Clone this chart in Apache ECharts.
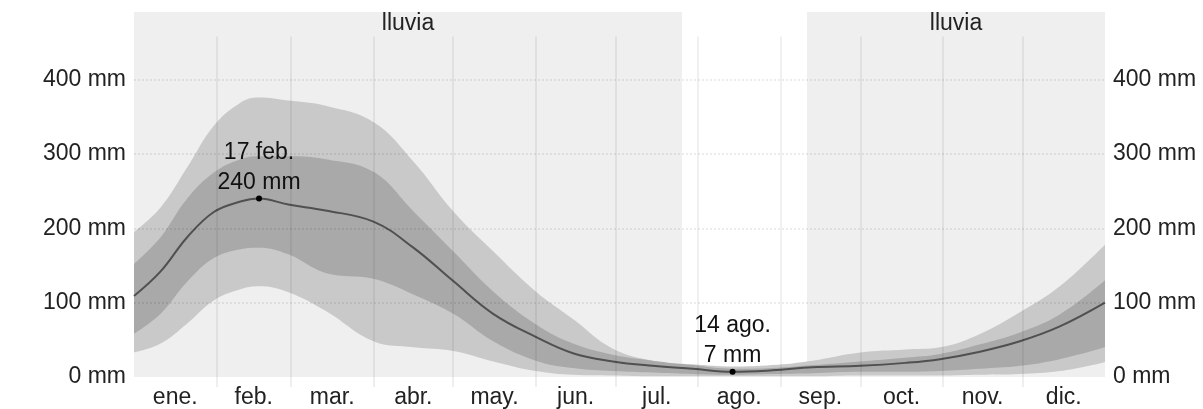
<!DOCTYPE html>
<html><head><meta charset="utf-8">
<script src="https://cdn.jsdelivr.net/npm/echarts@6/dist/echarts.min.js"></script>
<style>html,body{margin:0;padding:0;background:#fff}#c{width:1203px;height:409px}</style>
</head><body><div id="c"></div>
<script>
// Day of year (0 = 1 Jan)
const days = [0, 10, 20, 30, 40, 47, 58, 72, 90, 105, 120, 135, 151, 165, 180, 195, 210, 225, 240, 255, 273, 290, 303, 318, 333, 348, 365];
// Rainfall percentiles (mm)
const p10 = [33, 45, 72, 103, 118, 122, 114, 89, 48, 40, 35, 21, 8, 3, 2, 1, 1, 1, 1, 1, 2, 2, 2, 3, 4, 8, 20];
const p25 = [58, 85, 128, 160, 172, 174, 165, 140, 132, 111, 85, 48, 22, 12, 8, 6, 4, 3, 4, 5, 7, 7, 8, 11, 15, 24, 40];
const p50 = [109, 142, 188, 222, 236, 240, 232, 224, 209, 174, 129, 85, 54, 32, 21, 15, 11, 7, 9, 13, 15, 19, 24, 34, 48, 68, 100];
const p75 = [152, 188, 240, 275, 293, 297, 297, 293, 276, 223, 169, 115, 71, 45, 30, 22, 16, 11, 12, 16, 21, 26, 31, 44, 60, 84, 130];
const p90 = [195, 228, 282, 338, 369, 376, 372, 365, 343, 290, 223, 169, 115, 78, 38, 22, 17, 14, 16, 22, 33, 37, 40, 58, 87, 122, 178];

const monthNames = ['ene.', 'feb.', 'mar.', 'abr.', 'may.', 'jun.', 'jul.', 'ago.', 'sep.', 'oct.', 'nov.', 'dic.'];
const monthStarts = [0, 31, 59, 90, 120, 151, 181, 212, 243, 273, 304, 334, 365];
const yTicks = [0, 100, 200, 300, 400];

// Rainy season spans (day of year)
const seasonStart = [0, 253];
const seasonEnd = [206, 365];
const seasonLabel = 'lluvia';

// Annotated extremes
const annDays = [47, 225];
const annValues = [240, 7];
const annDates = ['17 feb.', '14 ago.'];

const Y_MAX = 491, GRID_TOP_VAL = 458;
const FONT = '"Liberation Sans", Arial, sans-serif';
const LIGHT = '#c9c9c9', DARK = '#a9a9a9', BG = '#efefef';

const monthMids = monthNames.map((_, i) => (monthStarts[i] + monthStarts[i + 1]) / 2);
const pts = arr => days.map((d, i) => [d, arr[i]]);

const chart = echarts.init(document.getElementById('c'), null, {renderer: 'canvas'});
const yAxisCommon = {
  type: 'value', min: 0, max: Y_MAX, interval: 100,
  splitLine: {show: false}, axisLine: {show: false}, axisTick: {show: false},
  axisLabel: {
    fontFamily: FONT, fontSize: 23, color: '#222', margin: 8, showMaxLabel: false,
    formatter: v => yTicks.indexOf(v) >= 0 ? v + ' mm' : ''
  }
};
// Layered opaque areas: each percentile curve filled down to 0, higher ones underneath
const band = (name, arr, color, z) => ({
  type: 'line', name, data: pts(arr), smooth: 0.4, symbol: 'none', silent: true, z,
  lineStyle: {width: 0}, areaStyle: {color, opacity: 1, origin: 'start'}
});

chart.setOption({
  animation: false,
  grid: {left: 134, right: 98, top: 12, bottom: 31},
  xAxis: {
    type: 'value', min: 0, max: 365,
    splitLine: {show: false}, axisLine: {show: false},
    axisTick: {show: true, customValues: monthStarts.slice(1, -1), length: 10, lineStyle: {color: 'rgba(0,0,0,0.09)', width: 1.5}},
    axisLabel: {
      customValues: monthMids, fontFamily: FONT, fontSize: 23, color: '#222', margin: 9,
      formatter: v => monthNames[monthMids.indexOf(v)] || ''
    }
  },
  yAxis: [
    Object.assign({position: 'left'}, yAxisCommon),
    Object.assign({position: 'right'}, yAxisCommon)
  ],
  series: [
    {
      type: 'line', data: [], z: 0, silent: true,
      markArea: {
        silent: true,
        itemStyle: {color: BG},
        label: {show: false},
        data: seasonStart.map((s, i) => [{xAxis: s, yAxis: 0}, {xAxis: seasonEnd[i], yAxis: Y_MAX}])
      }
    },
    band('p90', p90, LIGHT, 1),
    band('p75', p75, DARK, 2),
    band('p25', p25, LIGHT, 3),
    band('p10', p10, BG, 3.5),
    {
      type: 'line', name: 'mediana', data: pts(p50), smooth: 0.4, symbol: 'none', silent: true,
      lineStyle: {color: '#505050', width: 2}, z: 4
    },
    {
      type: 'line', data: [], z: 5, silent: true,
      markLine: {
        silent: true, symbol: ['none', 'none'], label: {show: false},
        data: [
          ...yTicks.slice(1).map(v => ({yAxis: v, lineStyle: {color: 'rgba(0,0,0,0.10)', width: 1.5, type: [2, 2]}})),
          ...monthStarts.slice(1, -1).map(d => [
            {coord: [d, 0], lineStyle: {color: 'rgba(0,0,0,0.08)', width: 1.5, type: 'solid'}},
            {coord: [d, GRID_TOP_VAL]}
          ])
        ]
      }
    },
    {
      type: 'line', data: [], z: 7, silent: true,
      markArea: {
        silent: true,
        itemStyle: {color: 'rgba(0,0,0,0)'},
        label: {show: true, position: 'insideTop', distance: 0, fontFamily: FONT, fontSize: 23, color: '#222'},
        data: seasonStart.map((s, i) => [{xAxis: s, yAxis: 0, name: seasonLabel}, {xAxis: seasonEnd[i], yAxis: Y_MAX}])
      }
    },
    {
      type: 'scatter', data: annDays.map((d, i) => [d, annValues[i]]), symbolSize: 6, z: 8, silent: true,
      itemStyle: {color: '#000', opacity: 1},
      label: {
        show: true, position: 'top', distance: -2, fontFamily: FONT, fontSize: 23, color: '#111', lineHeight: 30, align: 'center',
        formatter: p => annDates[p.dataIndex] + '\n' + annValues[p.dataIndex] + ' mm'
      }
    }
  ]
});
</script>
</body></html>
